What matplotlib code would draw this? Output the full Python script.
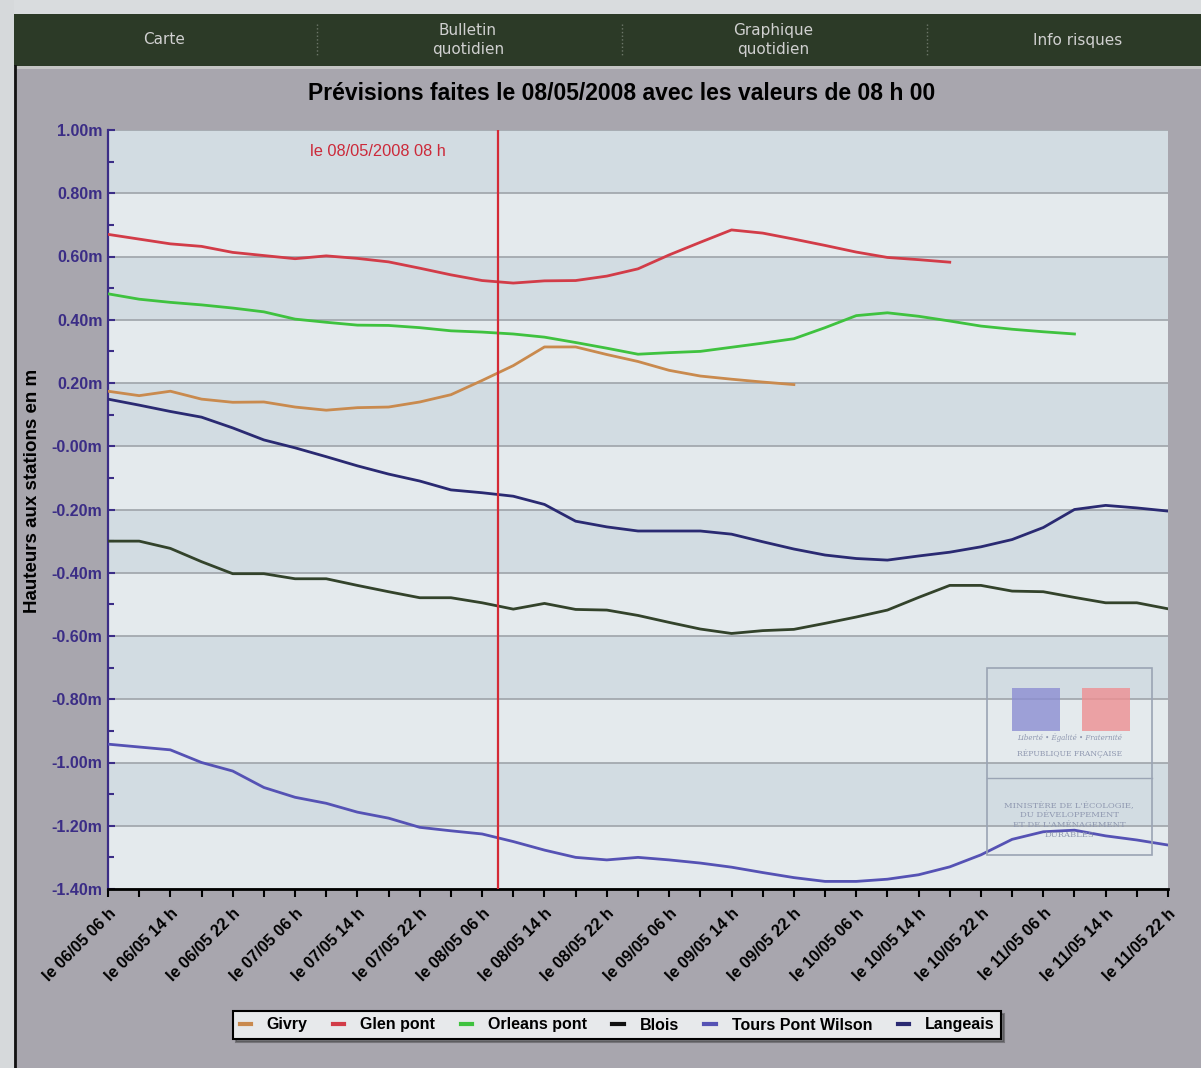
import matplotlib.pyplot as plt
from matplotlib.patches import Rectangle
from matplotlib.lines import Line2D
from matplotlib.ticker import MultipleLocator, FixedLocator

# hours since 06/05 06 h, one point every 4 hours
hours = list(range(0, 137, 4))

givry = [0.174, 0.160, 0.174, 0.149, 0.139, 0.140, 0.124, 0.114, 0.122, 0.124,
         0.140, 0.163, 0.208, 0.255, 0.314, 0.314, 0.290, 0.268, 0.240, 0.222,
         0.212, 0.203, 0.195]
glen_pont = [0.670, 0.655, 0.640, 0.632, 0.613, 0.603, 0.593, 0.602, 0.594, 0.583,
             0.563, 0.542, 0.524, 0.516, 0.523, 0.524, 0.538, 0.561, 0.605, 0.645,
             0.684, 0.674, 0.655, 0.635, 0.614, 0.597, 0.590, 0.582]
orleans_pont = [0.482, 0.465, 0.455, 0.447, 0.437, 0.425, 0.402, 0.392, 0.383, 0.382,
                0.375, 0.365, 0.361, 0.355, 0.345, 0.328, 0.310, 0.291, 0.296, 0.300,
                0.313, 0.326, 0.340, 0.375, 0.413, 0.422, 0.411, 0.396, 0.380, 0.370,
                0.362, 0.355]
blois = [-0.300, -0.300, -0.323, -0.365, -0.403, -0.403, -0.419, -0.419, -0.440, -0.460,
         -0.479, -0.479, -0.495, -0.515, -0.497, -0.516, -0.518, -0.535, -0.557, -0.578,
         -0.592, -0.583, -0.579, -0.560, -0.540, -0.518, -0.478, -0.440, -0.440, -0.458,
         -0.460, -0.478, -0.495, -0.495, -0.514]
tours_pont_wilson = [-0.942, -0.951, -0.960, -1.000, -1.027, -1.079, -1.110, -1.129, -1.157, -1.176,
                     -1.205, -1.216, -1.226, -1.250, -1.277, -1.300, -1.308, -1.300, -1.308, -1.318,
                     -1.331, -1.348, -1.364, -1.376, -1.376, -1.369, -1.355, -1.330, -1.292, -1.243,
                     -1.219, -1.214, -1.232, -1.245, -1.261]
langeais = [0.149, 0.130, 0.110, 0.092, 0.058, 0.020, -0.005, -0.033, -0.062, -0.088,
            -0.110, -0.138, -0.147, -0.158, -0.184, -0.237, -0.255, -0.268, -0.268, -0.268,
            -0.278, -0.302, -0.325, -0.344, -0.355, -0.360, -0.347, -0.335, -0.318, -0.295,
            -0.257, -0.200, -0.187, -0.195, -0.205]

series_names = ['Givry', 'Glen pont', 'Orleans pont', 'Blois', 'Tours Pont Wilson', 'Langeais']
series_values = [givry, glen_pont, orleans_pont, blois, tours_pont_wilson, langeais]
series_colors = ['#c98a4e', '#d23c48', '#3fc23f', '#33432b', '#5552b4', '#2a2a72']
legend_colors = ['#c98a4e', '#d23c48', '#3fc23f', '#111111', '#5552b4', '#2a2a72']

xtick_hours = list(range(0, 137, 8))
xtick_labels = ['le 06/05 06 h', 'le 06/05 14 h', 'le 06/05 22 h', 'le 07/05 06 h',
                'le 07/05 14 h', 'le 07/05 22 h', 'le 08/05 06 h', 'le 08/05 14 h',
                'le 08/05 22 h', 'le 09/05 06 h', 'le 09/05 14 h', 'le 09/05 22 h',
                'le 10/05 06 h', 'le 10/05 14 h', 'le 10/05 22 h', 'le 11/05 06 h',
                'le 11/05 14 h', 'le 11/05 22 h']
ytick_vals = [1.0, 0.8, 0.6, 0.4, 0.2, 0.0, -0.2, -0.4, -0.6, -0.8, -1.0, -1.2, -1.4]
ytick_labels = ['1.00m', '0.80m', '0.60m', '0.40m', '0.20m', '-0.00m', '-0.20m',
                '-0.40m', '-0.60m', '-0.80m', '-1.00m', '-1.20m', '-1.40m']
forecast_hour = 50
forecast_label = 'le 08/05/2008 08 h'
title = 'Prévisions faites le 08/05/2008 avec les valeurs de 08 h 00'
menu = ['Carte', 'Bulletin\nquotidien', 'Graphique\nquotidien', 'Info risques']

W, H = 1201, 1068
fig = plt.figure(figsize=(W / 100, H / 100), dpi=100)
fig.patch.set_facecolor('#a8a6ae')


def px(x, y):
    return (x / W, 1 - y / H)


def box(x0, y0, x1, y1, **kw):
    fig.add_artist(Rectangle(px(x0, y1), (x1 - x0) / W, (y1 - y0) / H,
                             transform=fig.transFigure, **kw))


# page around the chart
box(0, 0, W, 14, color='#d9dcde', lw=0)
box(0, 0, 14, H, color='#d6d9db', lw=0)
box(14, 14, W, 66, color='#2c3a27', lw=0)
box(14, 66, W, 69, color='#c4c4c4', lw=0)
fig.add_artist(Line2D([14.5 / W, 14.5 / W], [1 - 66 / H, 0], color='#111111', lw=2,
                      transform=fig.transFigure))
for xs in [317, 622, 927]:
    fig.add_artist(Line2D([xs / W, xs / W], [1 - 24 / H, 1 - 56 / H], color='#6d7769',
                          lw=1, ls=':', transform=fig.transFigure))
for xm, label in zip([164, 468, 773, 1078], menu):
    fig.text(*px(xm, 40), label, color='#d0d0d0', fontsize=11, ha='center', va='center',
             linespacing=1.35, family='DejaVu Sans')

fig.text(*px(622, 93), title, fontsize=16.5, fontweight='bold', ha='center', va='center',
         family=['Liberation Sans', 'DejaVu Sans'])
fig.text(*px(33, 491), 'Hauteurs aux stations en m', rotation=90, fontsize=13.5,
         fontweight='bold', ha='center', va='center', family=['Liberation Sans', 'DejaVu Sans'])

ax = fig.add_axes([108 / W, 1 - 889 / H, (1168 - 108) / W, (889 - 130) / H])
ax.set_facecolor('#e3e9ec')
for i in range(len(ytick_vals) - 1):
    c = '#d2dce2' if i % 2 == 0 else '#e4eaed'
    ax.axhspan(ytick_vals[i + 1], ytick_vals[i], color=c, lw=0, zorder=1)
ax.set_axisbelow('line')
ax.yaxis.grid(True, color='#a3a9ae', lw=1.3)

for name, vals, col in zip(series_names, series_values, series_colors):
    ax.plot(hours[:len(vals)], vals, color=col, lw=2, zorder=3)

ax.axvline(forecast_hour, color='#d42a36', lw=1.6, zorder=4)
ax.annotate(forecast_label, xy=(forecast_hour, 1.0), xytext=(-52, -22),
            textcoords='offset pixels', ha='right', va='center', color='#cc2a3a',
            fontsize=11.8, family=['Liberation Sans', 'DejaVu Sans'])

ax.set_xlim(0, 136)
ax.set_ylim(-1.4, 1.0)
ax.yaxis.set_major_locator(FixedLocator(ytick_vals))
ax.set_yticklabels(ytick_labels, color='#3b2d86', fontweight='bold', fontsize=11.5,
                   family=['Liberation Sans', 'DejaVu Sans'])
ax.yaxis.set_minor_locator(MultipleLocator(0.1))
ax.tick_params(axis='y', which='both', direction='in', color='#3b2d86', width=1.5)
ax.tick_params(axis='y', which='major', length=5, pad=4)
ax.tick_params(axis='y', which='minor', length=4)
ax.xaxis.set_major_locator(FixedLocator(xtick_hours))
ax.xaxis.set_minor_locator(MultipleLocator(4))
ax.set_xticklabels(xtick_labels, rotation=45, ha='right', rotation_mode='anchor',
                   fontweight='bold', fontsize=11.8, family=['Liberation Sans', 'DejaVu Sans'])
ax.tick_params(axis='x', which='both', direction='out', length=6, width=1.5, color='black', pad=6)
for s in ['top', 'right']:
    ax.spines[s].set_visible(False)
ax.spines['left'].set_color('#3b2d86')
ax.spines['left'].set_linewidth(1.6)
ax.spines['bottom'].set_color('black')
ax.spines['bottom'].set_linewidth(2)

# ministry logo watermark
box(987, 668, 1152, 855, fill=False, ec='#9aa4b4', lw=1.2, zorder=5)
fig.add_artist(Line2D([987 / W, 1152 / W], [1 - 778 / H] * 2, color='#9aa4b4', lw=1,
                      transform=fig.transFigure))
box(1012, 688, 1060, 731, color='#8c8ed2', lw=0, alpha=0.8)
box(1082, 688, 1130, 731, color='#ee8f92', lw=0, alpha=0.8)
fig.text(*px(1070, 738), 'Liberté • Égalité • Fraternité', fontsize=5, style='italic',
         color='#8f98b0', ha='center', va='center', family='DejaVu Serif')
fig.text(*px(1070, 754), 'RÉPUBLIQUE FRANÇAISE', fontsize=5.5, color='#8f98b0',
         ha='center', va='center', family='DejaVu Serif')
fig.text(*px(1069, 820), "MINISTÈRE DE L'ÉCOLOGIE,\nDU DÉVELOPPEMENT\nET DE L'AMÉNAGEMENT\nDURABLES",
         fontsize=6, color='#8f98b0', ha='center', va='center', linespacing=1.3,
         family='DejaVu Serif')

handles = [Line2D([], [], color=c, lw=3) for c in legend_colors]
leg = fig.legend(handles, series_names, loc='center', bbox_to_anchor=px(617, 1025), ncol=6,
                 handlelength=0.7, handletextpad=1.0, columnspacing=1.6, fancybox=False,
                 shadow=True, framealpha=1, facecolor='#e7e9eb', edgecolor='black',
                 prop={'weight': 'bold', 'size': 11.5, 'family': ['Liberation Sans', 'DejaVu Sans']})
leg.get_frame().set_linewidth(1.5)

fig.savefig('out.png', dpi=100, facecolor=fig.get_facecolor())
